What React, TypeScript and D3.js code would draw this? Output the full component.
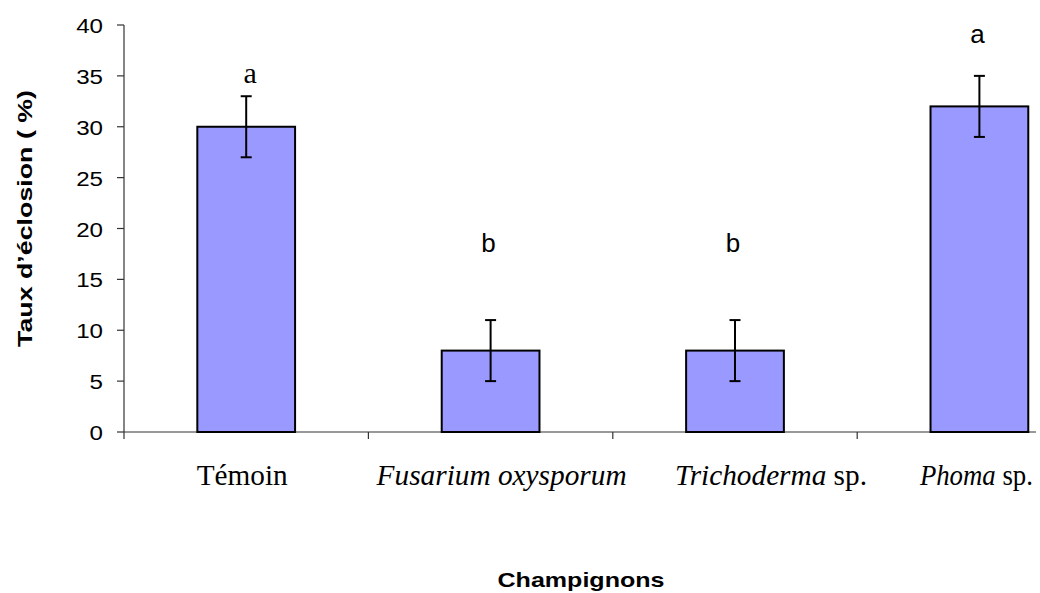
import React, { useRef, useEffect } from 'react'
import * as d3 from 'd3'

const categories = ['Témoin', 'Fusarium oxysporum', 'Trichoderma sp.', 'Phoma sp.']
const values = [30, 8, 8, 32]
const errors = [3, 3, 3, 3]
const letters = ['a', 'b', 'b', 'a']
// level (in % units) where each letter sits
const letterLevels = [34.3, 17.7, 17.7, 38.2]
const yTicks = [0, 5, 10, 15, 20, 25, 30, 35, 40]

// italic part / roman part of each category label
const labelParts: [string, string][] = [
  ['', 'Témoin'],
  ['Fusarium oxysporum', ''],
  ['Trichoderma', ' sp.'],
  ['Phoma', ' sp.']
]

const App: React.FC = () => {
  const svgRef = useRef<SVGSVGElement>(null)

  useEffect(() => {
    if (!svgRef.current) return
    const width = 1040
    const height = 593
    const svg = d3.select(svgRef.current)
    svg.selectAll('*').remove()

    const margin = { top: 25, left: 124, bottom: 161 }
    const plotBottom = height - margin.bottom

    const x = d3.scaleBand<string>()
      .domain(categories)
      .range([margin.left, margin.left + 244.4 * 4])
      .paddingInner(0.6)
      .paddingOuter(0.3)

    const y = d3.scaleLinear().domain([0, 40]).range([plotBottom, margin.top])

    const axisColor = '#333'
    const sans = 'Liberation Sans, Arial, sans-serif'
    const serif = 'Liberation Serif, Times New Roman, serif'

    // y axis
    const yAxis = svg.append('g')
    yAxis.append('line')
      .attr('x1', margin.left).attr('x2', margin.left)
      .attr('y1', y(40)).attr('y2', y(0))
      .attr('stroke', axisColor).attr('stroke-width', 1.2)
    yTicks.forEach(t => {
      yAxis.append('line')
        .attr('x1', margin.left - 7).attr('x2', margin.left)
        .attr('y1', y(t)).attr('y2', y(t))
        .attr('stroke', axisColor).attr('stroke-width', 1.2)
      yAxis.append('text')
        .attr('transform', `translate(103, ${y(t) + 8}) scale(1.15, 1)`)
        .attr('text-anchor', 'end')
        .attr('font-family', sans)
        .attr('font-size', 21)
        .attr('fill', '#000')
        .text(t)
    })

    // x axis
    const xAxis = svg.append('g')
    xAxis.append('line')
      .attr('x1', margin.left).attr('x2', 1036)
      .attr('y1', y(0)).attr('y2', y(0))
      .attr('stroke', axisColor).attr('stroke-width', 1.2)
    categories.forEach((c, i) => {
      const tickX = margin.left + i * x.step()
      xAxis.append('line')
        .attr('x1', tickX).attr('x2', tickX)
        .attr('y1', y(0)).attr('y2', y(0) + 7)
        .attr('stroke', axisColor).attr('stroke-width', 1.2)
    })

    // bars
    svg.append('g').selectAll('rect')
      .data(values)
      .enter().append('rect')
      .attr('x', (d, i) => x(categories[i]) as number)
      .attr('y', d => y(d))
      .attr('width', x.bandwidth())
      .attr('height', d => y(0) - y(d))
      .attr('fill', '#9999FF')
      .attr('stroke', '#000')
      .attr('stroke-width', 2)

    // error bars
    const eb = svg.append('g').attr('stroke', '#000').attr('stroke-width', 2)
    values.forEach((v, i) => {
      const cx = (x(categories[i]) as number) + x.bandwidth() / 2
      eb.append('line').attr('x1', cx).attr('x2', cx).attr('y1', y(v + errors[i])).attr('y2', y(v - errors[i]))
      eb.append('line').attr('x1', cx - 5.5).attr('x2', cx + 5.5).attr('y1', y(v + errors[i])).attr('y2', y(v + errors[i]))
      eb.append('line').attr('x1', cx - 5.5).attr('x2', cx + 5.5).attr('y1', y(v - errors[i])).attr('y2', y(v - errors[i]))
    })

    // significance letters
    letters.forEach((l, i) => {
      const cx = (x(categories[i]) as number) + x.bandwidth() / 2
      const isSerif = i === 0
      svg.append('text')
        .attr('x', cx + (isSerif ? 4 : -2))
        .attr('y', y(letterLevels[i]))
        .attr('text-anchor', 'middle')
        .attr('font-family', isSerif ? serif : sans)
        .attr('font-size', isSerif ? 30 : 26)
        .attr('fill', '#000')
        .text(l)
    })

    // category labels
    const labelOffsets = [-4, 11, 36, -3]
    const labelLengths = [91, 250, 192, 113]
    labelParts.forEach(([it, rm], i) => {
      const cx = (x(categories[i]) as number) + x.bandwidth() / 2 + labelOffsets[i]
      const t = svg.append('text')
        .attr('x', cx)
        .attr('y', 485)
        .attr('text-anchor', 'middle')
        .attr('font-family', serif)
        .attr('font-size', 29)
        .attr('fill', '#000')
        .attr('textLength', labelLengths[i])
        .attr('lengthAdjust', 'spacingAndGlyphs')
      if (it) t.append('tspan').attr('font-style', 'italic').text(it)
      if (rm) t.append('tspan').text(rm)
    })

    // axis titles
    svg.append('text')
      .attr('transform', `translate(32, 218.5) rotate(-90)`)
      .attr('text-anchor', 'middle')
      .attr('font-family', sans)
      .attr('font-weight', 'bold')
      .attr('font-size', 21)
      .attr('fill', '#000')
      .attr('textLength', 257)
      .attr('lengthAdjust', 'spacingAndGlyphs')
      .text('Taux d\u2019éclosion ( %)')

    svg.append('text')
      .attr('x', 581)
      .attr('y', 587)
      .attr('text-anchor', 'middle')
      .attr('font-family', sans)
      .attr('font-weight', 'bold')
      .attr('font-size', 21)
      .attr('fill', '#000')
      .attr('textLength', 167)
      .attr('lengthAdjust', 'spacingAndGlyphs')
      .text('Champignons')

    svg.attr('width', width).attr('height', height)
  }, [])

  return (
    <svg
      ref={svgRef}
      style={{ position: 'absolute', left: 0, top: 0, background: '#fff', display: 'block' }}
    />
  )
}

export default App
